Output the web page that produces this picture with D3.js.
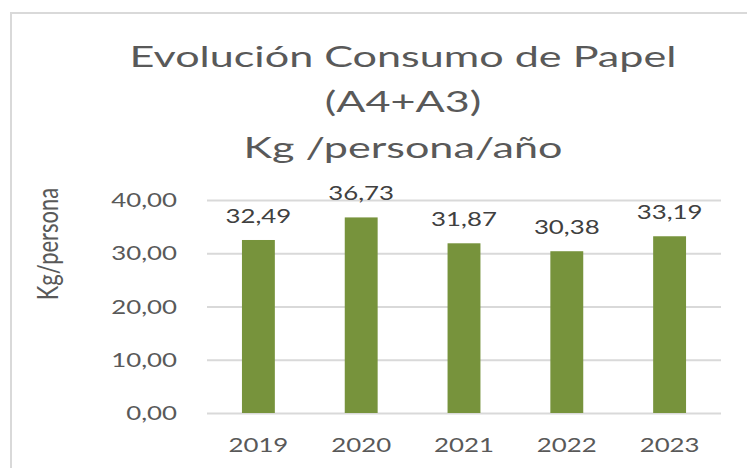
<!DOCTYPE html>
<html>
<head>
<meta charset="utf-8">
<script src="https://cdn.jsdelivr.net/npm/d3@7"></script>
<style>
    body { margin: 0; background: #fff; }
    svg text { font-family: Lato, "Open Sans", sans-serif; }
</style>
</head>
<body>
<div id="chart"></div>
<script>
// chart data
const years = ["2019", "2020", "2021", "2022", "2023"];
const kgPerPerson = [32.49, 36.73, 31.87, 30.38, 33.19];
const yTicks = [0, 10, 20, 30, 40];
const titleLines = ["Evolución Consumo de Papel", "(A4+A3)", "Kg /persona/año"];
const yAxisTitle = "Kg/persona";

const width = 747;
const height = 468;
const margin = {left: 207, right: 26, top: 200, bottom: 55};

// the picture is a bit stretched sideways, text follows that
const stretchX = 1.36;
const titleStretch = 1.54;

const fmt = function (v) {
    return v.toFixed(2).replace(".", ",");
};

const svg = d3.select("#chart")
    .append("svg")
    .attr("width", width)
    .attr("height", height);

svg.append("rect")
    .attr("width", width)
    .attr("height", height)
    .style("fill", "#fff");

// chart frame, right and bottom edges run off the picture
svg.append("rect")
    .attr("x", 11)
    .attr("y", 13)
    .attr("width", width + 20)
    .attr("height", height + 20)
    .style("fill", "none")
    .style("stroke", "#d9d9d9")
    .style("stroke-width", 2);

const x = d3.scaleBand()
    .domain(years)
    .range([margin.left, width - margin.right])
    .paddingInner(0.68)
    .paddingOuter(0.34);

const y = d3.scaleLinear()
    .domain([0, 40])
    .range([height - margin.bottom, margin.top]);

function stretched(sel, sx) {
    // scale text sideways around its anchor point
    sel.attr("transform", function () {
        const t = d3.select(this);
        const tx = +t.attr("x"), ty = +t.attr("y");
        return "translate(" + tx + "," + ty + ") scale(" + sx + ",1) translate(" + (-tx) + "," + (-ty) + ")";
    });
    return sel;
}

// gridlines + y tick labels
const yAxis = svg.append("g")
    .attr("transform", "translate(" + margin.left + ",0)")
    .call(d3.axisLeft(y)
        .tickValues(yTicks)
        .tickFormat(fmt)
        .tickSize(-(width - margin.right - margin.left))
        .tickPadding(30));

yAxis.select(".domain").remove();
yAxis.selectAll(".tick line")
    .style("stroke", "#d9d9d9")
    .style("stroke-width", 2);
yAxis.selectAll(".tick text")
    .style("font-size", "19px")
    .style("fill", "#595959")
    .attr("dy", "0.35em")
    .each(function () {
        const t = d3.select(this);
        const tx = +t.attr("x");
        t.attr("transform", "translate(" + tx + ",0) scale(" + stretchX + ",1) translate(" + (-tx) + ",0)");
    });

// bars
svg.selectAll(".bar")
    .data(kgPerPerson)
    .enter().append("rect")
    .attr("class", "bar")
    .attr("x", function (d, i) { return x(years[i]); })
    .attr("y", function (d) { return y(d); })
    .attr("width", x.bandwidth())
    .attr("height", function (d) { return y(0) - y(d); })
    .style("fill", "#77933c");

// value labels above bars
svg.selectAll(".value")
    .data(kgPerPerson)
    .enter().append("text")
    .attr("class", "value")
    .attr("x", function (d, i) { return x(years[i]) + x.bandwidth() / 2; })
    .attr("y", function (d) { return y(d) - 17; })
    .attr("text-anchor", "middle")
    .style("font-size", "19px")
    .style("fill", "#404040")
    .text(fmt)
    .call(stretched, stretchX);

// x axis labels
const xAxis = svg.append("g")
    .attr("transform", "translate(0," + (height - margin.bottom) + ")")
    .call(d3.axisBottom(x).tickSize(0).tickPadding(26));

xAxis.select(".domain").remove();
xAxis.selectAll(".tick text")
    .style("font-size", "19px")
    .style("fill", "#595959")
    .attr("dy", "0.71em")
    .attr("x", 0)
    .attr("transform", "scale(" + stretchX + ",1)");

// title
svg.append("g")
    .selectAll("text")
    .data(titleLines)
    .enter().append("text")
    .attr("x", 403)
    .attr("y", function (d, i) { return 67 + i * 45.5; })
    .attr("text-anchor", "middle")
    .style("font-size", "28px")
    .style("fill", "#595959")
    .text(function (d) { return d; })
    .call(stretched, titleStretch);

// y axis title
svg.append("text")
    .attr("transform", "translate(58,244) scale(1.3,1) rotate(-90)")
    .attr("text-anchor", "middle")
    .style("font-size", "22px")
    .style("fill", "#595959")
    .text(yAxisTitle);
</script>
</body>
</html>
